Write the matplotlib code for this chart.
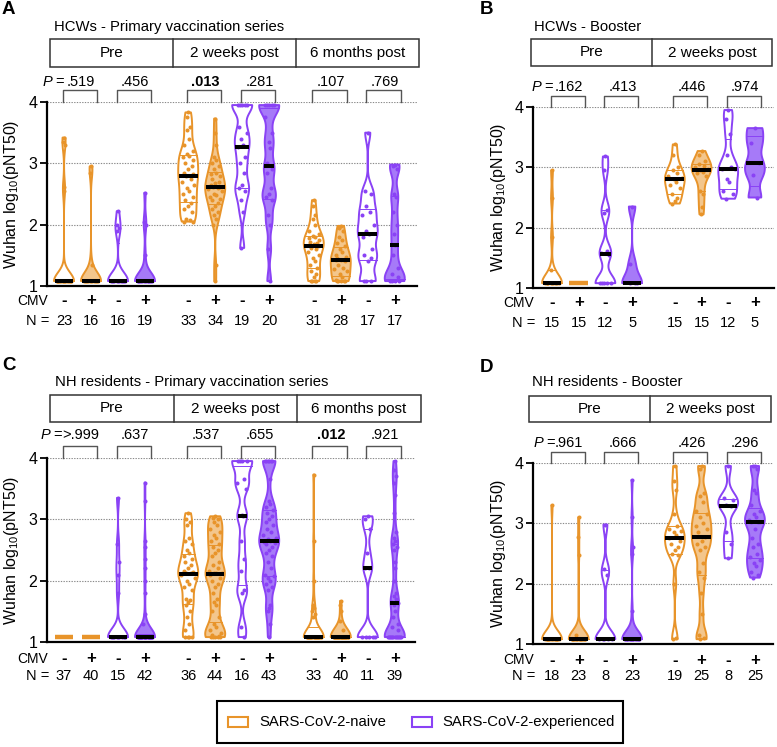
import numpy as np
import matplotlib
matplotlib.use('Agg')
import matplotlib.pyplot as plt
from matplotlib.patches import Rectangle, Polygon
from matplotlib.lines import Line2D

plt.rcParams['font.family'] = ['Liberation Sans', 'DejaVu Sans']
plt.rcParams['mathtext.fontset'] = 'custom'
plt.rcParams['mathtext.rm'] = 'Liberation Sans'
plt.rcParams['mathtext.it'] = 'Liberation Sans:italic'

W, H = 777, 747
ORANGE = '#E8942A'
ORANGE_FILL = '#F3C68C'
PURPLE = '#8A42F5'
PURPLE_FILL = '#A67AF8'
LOD = 1.08

# ---------------- data (order in each time point: naive CMV-, naive CMV+, experienced CMV-, experienced CMV+)
cmv_signs = ['-', '+', '-', '+']

# Panel A: HCWs - Primary vaccination series
a_times = ['Pre', '2 weeks post', '6 months post']
a_pre = [
    [3.42, 3.35, 3.3, 2.62, 2.55] + [LOD] * 18,
    [2.95, 2.85, 1.35] + [LOD] * 13,
    [2.22, 2.0, 1.95, 1.9] + [LOD] * 12,
    [2.52, 2.05, 2.0, 1.5] + [LOD] * 15,
]
a_2wk = [
    [3.83, 3.75, 3.6, 3.55, 3.4, 3.3, 3.2, 3.15, 3.12, 3.1, 3.05, 3.0, 2.95, 2.9, 2.85, 2.83, 2.8,
     2.75, 2.7, 2.65, 2.6, 2.55, 2.5, 2.45, 2.4, 2.35, 2.3, 2.25, 2.2, 2.1, 2.08, 2.05, 2.05],
    [3.73, 3.5, 3.3, 3.1, 3.05, 3.0, 2.95, 2.9, 2.85, 2.82, 2.8, 2.75, 2.7, 2.68, 2.65, 2.62, 2.62,
     2.6, 2.58, 2.55, 2.5, 2.48, 2.45, 2.42, 2.4, 2.35, 2.3, 2.25, 2.2, 2.15, 2.1, 2.0, 1.35, 1.08],
    [3.95, 3.95, 3.95, 3.95, 3.95, 3.6, 3.5, 3.4, 3.3, 3.27, 3.1, 3.0, 2.85, 2.65, 2.6, 2.55, 2.4, 2.2, 1.62],
    [3.95, 3.95, 3.95, 3.95, 3.95, 3.75, 3.5, 3.35, 3.25, 3.0, 2.9, 2.85, 2.6, 2.5, 2.45, 2.4, 2.15, 2.0, 1.6, 1.08],
]
a_6mo = [
    [2.4, 2.3, 2.15, 2.1, 2.0, 1.9, 1.85, 1.82, 1.8, 1.78, 1.75, 1.72, 1.7, 1.68, 1.67, 1.65, 1.62,
     1.6, 1.55, 1.5, 1.45, 1.4, 1.35, 1.3, 1.25, 1.2, 1.15, 1.08, 1.08, 1.08, 1.08],
    [1.98, 1.95, 1.9, 1.8, 1.75, 1.7, 1.65, 1.6, 1.55, 1.5, 1.48, 1.45, 1.43, 1.42, 1.42, 1.4, 1.35,
     1.3, 1.28, 1.25, 1.2, 1.15, 1.1, 1.08, 1.08, 1.08, 1.08, 1.08],
    [3.5, 2.55, 2.5, 2.3, 2.2, 2.15, 2.0, 1.9, 1.85, 1.8, 1.6, 1.5, 1.45, 1.4, 1.08, 1.08, 1.08],
    [2.98, 2.95, 2.9, 2.5, 2.45, 2.2, 2.0, 1.85, 1.67, 1.5, 1.3, 1.2, 1.15, 1.08, 1.08, 1.08, 1.08],
]
a_n = [23, 16, 16, 19, 33, 34, 19, 20, 31, 28, 17, 17]
a_p = ['.519', '.456', '.013', '.281', '.107', '.769']
a_p_bold = [False, False, True, False, False, False]

# Panel B: HCWs - Booster
b_times = ['Pre', '2 weeks post']
b_pre = [
    [2.95, 2.5, 1.85, 1.3] + [LOD] * 11,
    [LOD] * 15,
    [3.18, 2.95, 2.3, 2.25, 1.62, 1.58, 1.55] + [LOD] * 5,
    [2.35, 1.4, 1.08, 1.08, 1.08],
]
b_2wk = [
    [3.38, 3.2, 3.0, 2.95, 2.9, 2.85, 2.82, 2.8, 2.75, 2.7, 2.65, 2.55, 2.5, 2.45, 2.4],
    [3.27, 3.2, 3.1, 3.05, 3.02, 3.0, 2.98, 2.95, 2.93, 2.9, 2.85, 2.6, 2.55, 2.35, 2.22],
    [3.95, 3.8, 3.55, 3.2, 3.0, 2.98, 2.97, 2.8, 2.75, 2.6, 2.55, 2.48],
    [3.65, 3.4, 3.07, 2.88, 2.5],
]
b_n = [15, 15, 12, 5, 15, 15, 12, 5]
b_p = ['.162', '.413', '.446', '.974']
b_p_bold = [False, False, False, False]

# Panel C: NH residents - Primary vaccination series
c_times = ['Pre', '2 weeks post', '6 months post']
c_pre = [
    [LOD] * 37,
    [LOD] * 40,
    [3.35, 2.6, 2.3, 2.1, 1.8] + [LOD] * 10,
    [3.6, 3.3, 2.65, 2.55, 2.35, 2.2, 2.0, 1.8, 1.45, 1.3] + [LOD] * 32,
]
c_2wk = [
    [3.1, 3.0, 2.95, 2.9, 2.7, 2.65, 2.6, 2.5, 2.45, 2.4, 2.35, 2.3, 2.25, 2.2, 2.15, 2.14, 2.13, 2.12,
     2.1, 2.05, 2.0, 1.95, 1.9, 1.85, 1.7, 1.68, 1.65, 1.6, 1.5, 1.4, 1.3, 1.2, 1.08, 1.08, 1.08, 1.08],
    [3.05, 3.02, 3.0, 2.95, 2.9, 2.85, 2.8, 2.75, 2.7, 2.65, 2.6, 2.55, 2.5, 2.45, 2.4, 2.3, 2.25, 2.2,
     2.15, 2.13, 2.12, 2.12, 2.1, 2.05, 2.0, 1.95, 1.9, 1.8, 1.7, 1.65, 1.6, 1.5, 1.4, 1.3, 1.25, 1.2,
     1.15, 1.12, 1.1, 1.08, 1.08, 1.08, 1.08, 1.08],
    [3.95, 3.95, 3.95, 3.95, 3.65, 3.6, 3.5, 3.07, 3.05, 2.65, 2.35, 2.15, 1.85, 1.8, 1.25, 1.08],
    [3.95, 3.95, 3.95, 3.95, 3.95, 3.95, 3.65, 3.3, 3.25, 3.2, 3.15, 3.1, 3.05, 3.0, 2.95, 2.9, 2.85,
     2.8, 2.75, 2.7, 2.68, 2.65, 2.63, 2.62, 2.6, 2.55, 2.5, 2.45, 2.4, 2.3, 2.2, 2.1, 2.08, 2.05, 2.0,
     1.95, 1.9, 1.85, 1.6, 1.55, 1.5, 1.3, 1.08],
]
c_6mo = [
    [3.73, 2.65, 2.0, 1.6, 1.55, 1.5, 1.45, 1.4] + [LOD] * 25,
    [1.67, 1.6, 1.5, 1.35, 1.2] + [LOD] * 35,
    [3.05, 3.0, 2.85, 2.45, 2.2, 2.2] + [LOD] * 5,
    [3.95, 3.8, 3.7, 3.6, 3.4, 3.1, 2.8, 2.7, 2.65, 2.6, 2.55, 2.5, 2.3, 2.2, 2.0, 1.8, 1.75, 1.7,
     1.65, 1.63, 1.6, 1.5, 1.4, 1.3, 1.25, 1.2] + [LOD] * 13,
]
c_n = [37, 40, 15, 42, 36, 44, 16, 43, 33, 40, 11, 39]
c_p = ['>.999', '.637', '.537', '.655', '.012', '.921']
c_p_bold = [False, False, False, False, True, False]

# Panel D: NH residents - Booster
d_times = ['Pre', '2 weeks post']
d_pre = [
    [3.3] + [LOD] * 17,
    [3.1, 2.78, 2.48, 1.15] + [LOD] * 19,
    [2.98, 2.25, 2.15] + [LOD] * 5,
    [3.72, 3.1, 2.6, 2.5, 1.55] + [LOD] * 18,
]
d_2wk = [
    [3.95, 3.7, 3.55, 3.15, 2.95, 2.9, 2.88, 2.85, 2.8, 2.75, 2.7, 2.65, 2.6, 2.55, 2.5, 2.48, 2.0, 1.1, 1.08],
    [3.95, 3.9, 3.5, 3.45, 3.35, 3.2, 3.15, 3.1, 3.0, 2.95, 2.9, 2.85, 2.78, 2.7, 2.65, 2.6, 2.55,
     2.35, 2.2, 2.1, 1.85, 1.5, 1.15, 1.1, 1.08],
    [3.95, 3.42, 3.38, 3.3, 3.28, 2.85, 2.65, 2.42],
    [3.95, 3.95, 3.9, 3.55, 3.5, 3.3, 3.2, 3.15, 3.1, 3.05, 3.03, 3.02, 3.02, 2.9, 2.75, 2.65, 2.6,
     2.5, 2.45, 2.4, 2.35, 2.3, 2.2, 2.15, 2.1],
]
d_n = [18, 23, 8, 23, 19, 25, 8, 25]
d_p = ['.961', '.666', '.426', '.296']
d_p_bold = [False, False, False, False]

legend_labels = ['SARS-CoV-2-naive', 'SARS-CoV-2-experienced']

# ---------------- drawing helpers
fig = plt.figure(figsize=(W / 100, H / 100), dpi=100)
fig.patch.set_facecolor('white')


def fx(px):
    return px / W


def fy(py):
    return 1 - py / H


STYLES = [(ORANGE, 'white'), (ORANGE, ORANGE_FILL), (PURPLE, 'white'), (PURPLE, PURPLE_FILL)]
JIT = [0, -0.55, 0.55, -0.3, 0.3, -0.8, 0.8, -0.15, 0.15, -0.65, 0.65, -0.42, 0.42]


def violin(ax, x, vals, color, fill, hw=0.37, bw=0.14):
    v = np.sort(np.asarray(vals, float))
    lo, hi = v.min(), v.max()
    if hi - lo < 1e-6:
        ax.plot([x - hw * 0.95, x + hw * 0.95], [lo, lo], color=color, lw=3.2,
                solid_capstyle='butt', zorder=3)
        return
    ys = np.linspace(lo, hi, 400)
    d = np.exp(-0.5 * ((ys[:, None] - v[None, :]) / bw) ** 2).sum(1)
    w = d / d.max() * hw
    xs = np.concatenate([x - w, (x + w)[::-1]])
    yy = np.concatenate([ys, ys[::-1]])
    ax.add_patch(Polygon(np.column_stack([xs, yy]), closed=True, facecolor=fill,
                         edgecolor=color, lw=1.4, zorder=2, joinstyle='round'))

    def wid(y):
        return float(np.interp(y, ys, w))

    q1, med, q3 = np.percentile(v, [25, 50, 75], method='weibull')
    for q in (q1, q3):
        ww = wid(q)
        ax.plot([x - ww, x + ww], [q, q], color=color, lw=0.7, zorder=3)
    for i, val in enumerate(v[::-1]):
        off = JIT[i % len(JIT)] * wid(val) * 0.85
        ax.plot(x + off, val, 'o', ms=2.9, color=color, mec='none', zorder=4)
    mw = max(wid(med) * 0.95, 0.17)
    ax.plot([x - mw, x + mw], [med, med], color='black', lw=2.9,
            solid_capstyle='butt', zorder=5)


def panel(cfg):
    left, right, ytop, ybot = cfg['axes_px']
    px0, unit = cfg['px0'], cfg['unit']
    ax = fig.add_axes([fx(left), fy(ybot), (right - left) / W, (ybot - ytop) / H])
    ax.set_xlim((left - px0) / unit, (right - px0) / unit)
    ax.set_ylim(1, 4)
    ax.set_facecolor('none')
    for s in ('top', 'right'):
        ax.spines[s].set_visible(False)
    for s in ('left', 'bottom'):
        ax.spines[s].set_linewidth(1.6)
        ax.spines[s].set_color('black')
    ax.set_xticks([])
    ax.set_yticks([1, 2, 3, 4])
    ax.set_yticklabels(['1', '2', '3', '4'])
    ax.tick_params(axis='y', length=5, width=1.3, labelsize=11.5, pad=2)
    for g in (2, 3, 4):
        ax.axhline(g, color='#8a8a8a', lw=0.8, ls=(0, (1.2, 1.2)), zorder=0)

    def ydat(py):
        return 1 + (ybot - py) / (ybot - ytop) * 3

    positions = []
    for off in cfg['offsets']:
        positions += [off + k for k in range(4)]
    groups = []
    for tp in cfg['data']:
        groups += tp
    for i, (x, vals) in enumerate(zip(positions, groups)):
        col, fil = STYLES[i % 4]
        violin(ax, x, vals, col, fil)

    # brackets and P values
    for j, (pv, bold) in enumerate(zip(cfg['p'], cfg['pbold'])):
        xa = positions[2 * j]
        x0, x1 = xa - 0.05, xa + 1.22
        yb, yt = 4, ydat(cfg['bracket_top'])
        ax.plot([x0, x0, x1, x1], [yb, yt, yt, yb], color='#555555', lw=1.0,
                clip_on=False, zorder=1)
        ax.text((x0 + x1) / 2 + 0.05, ydat(cfg['p_y']), pv, ha='center', va='center',
                fontsize=10.5, fontweight='bold' if bold else 'normal', clip_on=False)
    fig.text(fx(cfg['P_x']), fy(cfg['p_y']), 'P', style='italic', ha='left', va='center', fontsize=10.5)
    fig.text(fx(cfg['P_x'] + 12), fy(cfg['p_y']), '=', ha='left', va='center', fontsize=10.5)

    # CMV and N rows
    for i, x in enumerate(positions):
        s = cmv_signs[i % 4]
        ax.text(x, ydat(cfg['cmv_y']), s, ha='center', va='center',
                fontsize=12, fontweight='bold', clip_on=False)
        ax.text(x, ydat(cfg['n_y']), str(cfg['n'][i]), ha='center', va='center',
                fontsize=10.5, clip_on=False)
    fig.text(fx(left + 1), fy(cfg['cmv_y']), 'CMV', ha='right', va='center', fontsize=10)
    fig.text(fx(left + 2), fy(cfg['n_y']), 'N =', ha='right', va='center', fontsize=10.5)

    # header boxes
    bx = cfg['box_x']
    by0, by1 = cfg['box_y']
    fig.add_artist(Rectangle((fx(bx[0]), fy(by1)), (bx[-1] - bx[0]) / W, (by1 - by0) / H,
                             transform=fig.transFigure, fill=False, ec='#333333', lw=1.1))
    for xd in bx[1:-1]:
        fig.add_artist(Line2D([fx(xd), fx(xd)], [fy(by0), fy(by1)], transform=fig.transFigure,
                              color='#333333', lw=1.1))
    for k, t in enumerate(cfg['times']):
        fig.text(fx((bx[k] + bx[k + 1]) / 2), fy((by0 + by1) / 2), t, ha='center', va='center',
                 fontsize=11)

    # titles, letters, y label
    fig.text(fx(cfg['title_xy'][0]), fy(cfg['title_xy'][1]), cfg['title'], ha='left', va='center',
             fontsize=10.7)
    fig.text(fx(cfg['letter_xy'][0]), fy(cfg['letter_xy'][1]), cfg['letter'], ha='left', va='center',
             fontsize=13.5, fontweight='bold')
    fig.text(fx(cfg['ylabel_x']), fy((ytop + ybot) / 2), r'Wuhan log$_{10}$(pNT50)', rotation=90,
             ha='center', va='center', fontsize=11.5)
    return ax


panel(dict(axes_px=(47, 417, 102, 286), px0=64, unit=27, offsets=[0, 4.6, 9.25],
           data=[a_pre, a_2wk, a_6mo], n=a_n, p=a_p, pbold=a_p_bold, times=a_times,
           bracket_top=90, p_y=82, P_x=43, cmv_y=301, n_y=321,
           box_x=[50, 173, 296, 419], box_y=(39, 67),
           title='HCWs - Primary vaccination series', title_xy=(54, 27),
           letter='A', letter_xy=(2, 9), ylabel_x=12))

panel(dict(axes_px=(533, 774, 107, 288), px0=552, unit=26.7, offsets=[0, 4.6],
           data=[b_pre, b_2wk], n=b_n, p=b_p, pbold=b_p_bold, times=b_times,
           bracket_top=96, p_y=87, P_x=532, cmv_y=303, n_y=323,
           box_x=[531, 652, 772], box_y=(39, 66),
           title='HCWs - Booster', title_xy=(534, 27),
           letter='B', letter_xy=(480, 10), ylabel_x=499))

panel(dict(axes_px=(47, 415, 458, 642), px0=64, unit=27, offsets=[0, 4.6, 9.25],
           data=[c_pre, c_2wk, c_6mo], n=c_n, p=c_p, pbold=c_p_bold, times=c_times,
           bracket_top=446, p_y=435, P_x=41, cmv_y=659, n_y=676,
           box_x=[50, 174, 297, 421], box_y=(395, 422),
           title='NH residents - Primary vaccination series', title_xy=(55, 382),
           letter='C', letter_xy=(2, 366), ylabel_x=12))

panel(dict(axes_px=(533, 773, 463, 644), px0=552, unit=26.7, offsets=[0, 4.6],
           data=[d_pre, d_2wk], n=d_n, p=d_p, pbold=d_p_bold, times=d_times,
           bracket_top=452, p_y=443, P_x=534, cmv_y=660, n_y=676,
           box_x=[529, 650, 771], box_y=(396, 422),
           title='NH residents - Booster', title_xy=(532, 382),
           letter='D', letter_xy=(480, 367), ylabel_x=499))

# legend
fig.add_artist(Rectangle((fx(217), fy(743)), (623 - 217) / W, (743 - 701) / H,
                         transform=fig.transFigure, fill=False, ec='black', lw=1.5))
for (px_patch, px_text, col, lab) in [(228, 259, ORANGE, legend_labels[0]),
                                      (412, 442, PURPLE, legend_labels[1])]:
    fig.add_artist(Rectangle((fx(px_patch), fy(727)), 20 / W, 10 / H, transform=fig.transFigure,
                             fill=False, ec=col, lw=1.5))
    fig.text(fx(px_text), fy(722), lab, ha='left', va='center', fontsize=10.7)

fig.savefig('out.png', dpi=100, facecolor='white')
